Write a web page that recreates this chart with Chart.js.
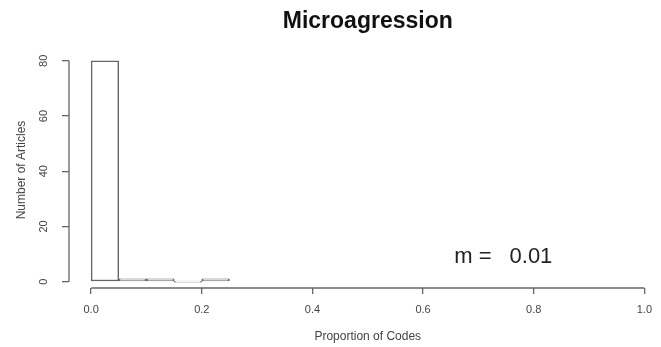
<!DOCTYPE html>
<html>
<head>
<meta charset="utf-8">
<script src="https://cdn.jsdelivr.net/npm/chart.js@4/dist/chart.umd.min.js"></script>
<style>
  html, body { margin: 0; padding: 0; background: #fff; }
  canvas { display: block; }
</style>
</head>
<body>
<canvas id="hist" width="661" height="347"></canvas>
<script>
// Histogram data: bins of width 0.05 starting at each break
const chartTitle = 'Microagression';
const binStarts = [0, 0.05, 0.10, 0.15, 0.20];
const binWidth = 0.05;
const articleCounts = [80, 1, 1, 0, 1];
const xTickValues = [0, 0.2, 0.4, 0.6, 0.8, 1.0];
const yTickValues = [0, 20, 40, 60, 80];
const xAxisTitle = 'Proportion of Codes';
const yAxisTitle = 'Number of Articles';
const meanLabel = 'm =';
const meanValue = '0.01';

const FONT = '"Liberation Sans", Arial, sans-serif';
const LINE = '#666';
const TEXT = '#444';

// R-style axes: lines only span the tick range, plus title and mean note
const extras = {
  id: 'extras',
  afterDraw(chart) {
    const { ctx, chartArea, scales: { x, y } } = chart;
    ctx.save();
    ctx.strokeStyle = LINE;
    ctx.lineWidth = 1.3;
    ctx.beginPath();
    ctx.moveTo(x.getPixelForValue(xTickValues[0]), chartArea.bottom);
    ctx.lineTo(x.getPixelForValue(xTickValues[xTickValues.length - 1]), chartArea.bottom);
    ctx.moveTo(chartArea.left, y.getPixelForValue(yTickValues[0]));
    ctx.lineTo(chartArea.left, y.getPixelForValue(yTickValues[yTickValues.length - 1]));
    ctx.stroke();

    const cx = x.getPixelForValue(0.5);
    ctx.textAlign = 'center';
    ctx.textBaseline = 'middle';
    ctx.fillStyle = '#111';
    ctx.font = 'bold 23px ' + FONT;
    ctx.fillText(chartTitle, cx, 22);

    ctx.fillStyle = TEXT;
    ctx.font = '12px ' + FONT;
    ctx.fillText(xAxisTitle, cx, 337);

    ctx.fillStyle = '#222';
    ctx.font = '22px ' + FONT;
    const ty = y.getPixelForValue(9);
    ctx.fillText(meanLabel, x.getPixelForValue(0.69), ty);
    ctx.fillText(meanValue, x.getPixelForValue(0.795), ty);
    ctx.restore();
  }
};

new Chart(document.getElementById('hist'), {
  type: 'bar',
  data: {
    datasets: [{
      data: binStarts.map((s, i) => ({ x: s + binWidth / 2, y: articleCounts[i] })),
      backgroundColor: '#fff',
      borderColor: LINE,
      borderWidth: 1.5,
      borderSkipped: false,
      barPercentage: 1,
      categoryPercentage: 1,
      minBarLength: 1
    }]
  },
  options: {
    responsive: false,
    animation: false,
    devicePixelRatio: 1,
    layout: { padding: { top: 52, left: 0, right: 0, bottom: 0 } },
    plugins: { legend: { display: false }, tooltip: { enabled: false }, title: { display: false } },
    scales: {
      x: {
        type: 'linear',
        min: -0.04,
        max: 1.02,
        offset: false,
        grid: { display: true, offset: false, drawOnChartArea: false, drawTicks: true, tickLength: 6, color: LINE, lineWidth: 1.3 },
        border: { display: false },
        ticks: {
          autoSkip: false, maxRotation: 0, padding: 9, color: TEXT,
          font: { family: FONT, size: 11 },
          callback: v => Number(v).toFixed(1)
        },
        afterBuildTicks: s => { s.ticks = xTickValues.map(v => ({ value: v })); },
        afterFit: s => { s.height = 59; }
      },
      y: {
        min: -2.3,
        max: 83.2,
        grid: { display: true, drawOnChartArea: false, drawTicks: true, tickLength: 7, color: LINE, lineWidth: 1.3 },
        border: { display: false },
        ticks: {
          minRotation: 90, maxRotation: 90, crossAlign: 'center', padding: 12,
          color: TEXT, font: { family: FONT, size: 11 },
          callback: v => String(v)
        },
        title: {
          display: true, text: yAxisTitle, color: TEXT,
          font: { family: FONT, size: 12 },
          padding: { top: 14.5, bottom: 0 }
        },
        afterBuildTicks: s => { s.ticks = yTickValues.map(v => ({ value: v })); },
        afterFit: s => { s.width = 69; }
      }
    }
  },
  plugins: [extras]
});
</script>
</body>
</html>
